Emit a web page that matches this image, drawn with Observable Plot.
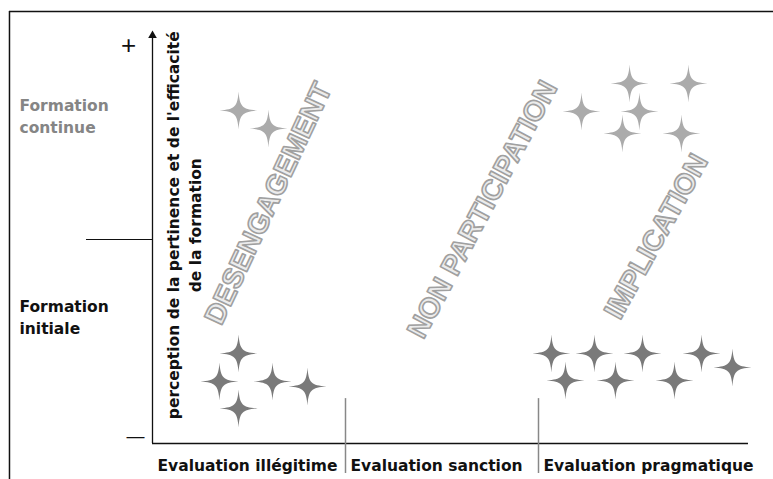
<!DOCTYPE html>
<html>
<head>
<meta charset="utf-8">
<script src="https://cdn.jsdelivr.net/npm/d3@7"></script>
<script src="https://cdn.jsdelivr.net/npm/@observablehq/plot@0.6"></script>
<style>
  html, body { margin: 0; padding: 0; background: #fff; }
  svg { display: block; overflow: visible; }
</style>
</head>
<body>
<div id="chart"></div>
<script>
// Categories along the x axis (type of evaluation)
const categories = ["Evaluation illégitime", "Evaluation sanction", "Evaluation pragmatique"];
// Levels of the y axis (perception of the relevance of the training)
const levels = ["Formation\ninitiale", "Formation\ncontinue"];
// Zone labels
const zones = ["DESENGAGEMENT", "NON PARTICIPATION", "IMPLICATION"];
const zoneX = [0.601, 1.710, 2.611];
const zoneY = [1.176, 1.147, 1.015];

// Stars: formation continue (light) — x position on category scale, y perception
const continueX = [0.446, 0.601, 2.223, 2.472, 2.777, 2.523, 2.435, 2.741];
const continueY = [1.632, 1.544, 1.627, 1.765, 1.765, 1.627, 1.520, 1.520];
// Stars: formation initiale (dark)
const initialeX = [0.446, 0.347, 0.622, 0.803, 0.446, 2.067, 2.290, 2.539, 2.845, 2.140, 2.399, 2.705, 3.005];
const initialeY = [0.441, 0.304, 0.304, 0.279, 0.172, 0.441, 0.441, 0.441, 0.441, 0.309, 0.309, 0.309, 0.373];

const starsC = continueX.map((x, i) => ({x, y: continueY[i]}));
const starsI = initialeX.map((x, i) => ({x, y: initialeY[i]}));
const zoneRows = zones.map((label, i) => ({label, x: zoneX[i], y: zoneY[i], i}));

const sparkle = {
  draw(ctx, size) {
    const R = Math.sqrt(size / Math.PI);
    const a = 0.06 * R, b = 0.2 * R;
    ctx.moveTo(0, -R);
    ctx.bezierCurveTo(a, -b, b, -a, R, 0);
    ctx.bezierCurveTo(b, a, a, b, 0, R);
    ctx.bezierCurveTo(-a, b, -b, a, -R, 0);
    ctx.bezierCurveTo(-b, -a, -a, -b, 0, -R);
    ctx.closePath();
  }
};

const font = "'DejaVu Sans', Verdana, sans-serif";
const arial = "'Liberation Sans', Arial, sans-serif";

const chart = Plot.plot({
  width: 773,
  height: 479,
  marginLeft: 152,
  marginRight: 42,
  marginTop: 35,
  marginBottom: 36,
  style: {fontFamily: font, background: "#fff", overflow: "visible"},
  x: {domain: [0, 3], axis: null},
  y: {domain: [0, 2], axis: null},
  marks: [
    // outer frame (top and left edges)
    Plot.ruleY([2.118], {x1: -0.741, x2: 3.25, stroke: "#111", strokeWidth: 1.5}),
    Plot.ruleX([-0.741], {y1: 2.118, y2: -0.2, stroke: "#111", strokeWidth: 1.5}),
    // axes
    Plot.ruleX([0], {y1: 0, y2: 2.0, stroke: "#111", strokeWidth: 1.3}),
    Plot.dot([{x: 0, y: 2.0}], {x: "x", y: "y", symbol: "triangle", r: 3.2, fill: "#111", stroke: null}),
    Plot.ruleY([0], {x1: 0, x2: 3.088, stroke: "#111", strokeWidth: 1.3}),
    // level divider
    Plot.ruleY([1], {x1: -0.342, x2: 0, stroke: "#111", strokeWidth: 1.2}),
    // category dividers
    Plot.ruleX([1, 2], {y1: 0.22, y2: -0.147, stroke: "#888", strokeWidth: 1.5}),
    // + and -
    Plot.text(["+"], {x: -0.124, y: 1.951, fontSize: 26, fill: "#111", fontWeight: 300, fontFamily: arial}),
    Plot.text(["—"], {x: -0.088, y: 0.034, fontSize: 18, fill: "#111", fontFamily: arial}),
    // level labels
    Plot.text([levels[1]], {x: -0.741, y: 1.612, dx: 10, textAnchor: "start", fontSize: 15.5, fontWeight: "bold", fill: "#858585", lineHeight: 1.45}),
    Plot.text([levels[0]], {x: -0.741, y: 0.625, dx: 10, textAnchor: "start", fontSize: 15.5, fontWeight: "bold", fill: "#111", lineHeight: 1.45}),
    // y axis label
    Plot.text(["perception de la pertinence et de l'efficacité"], {x: 0.109, y: 1.07, rotate: -90, fontSize: 15.5, fontWeight: "bold", fill: "#111"}),
    Plot.text(["de la formation"], {x: 0.223, y: 1.07, rotate: -90, fontSize: 15.5, fontWeight: "bold", fill: "#111"}),
    // zone labels (outlined)
    ...[-65, -62, -61].map((angle, k) =>
      Plot.text(zoneRows.filter(d => d.i === k), {x: "x", y: "y", text: "label", rotate: angle, fontSize: 28.5, fontWeight: "bold", fontFamily: arial, fill: "#ececec", stroke: "#a0a0a0", strokeWidth: 1.6, paintOrder: "fill"})
    ),
    // stars
    Plot.dot(starsC, {x: "x", y: "y", symbol: sparkle, r: 19, fill: "#ababab", stroke: null}),
    Plot.dot(starsI, {x: "x", y: "y", symbol: sparkle, r: 19, fill: "#7a7a7a", stroke: null}),
    // category labels
    Plot.text(categories, {x: (d, i) => i, y: -0.108, dx: 5, textAnchor: "start", fontSize: 15.5, fontWeight: "bold", fill: "#111"})
  ]
});
document.getElementById("chart").appendChild(chart);
</script>
</body>
</html>
